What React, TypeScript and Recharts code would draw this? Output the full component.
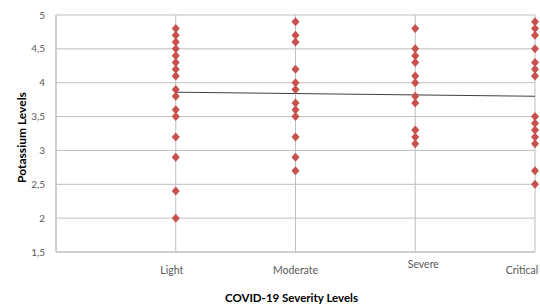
import { ScatterChart, Scatter, XAxis, YAxis, CartesianGrid } from "recharts";

// Category positions on the x axis (0 is the empty left edge)
const severityLabels = ["", "Light", "Moderate", "Severe", "Critical"];

// Potassium readings per severity group
const lightValues = [4.8, 4.7, 4.6, 4.5, 4.4, 4.3, 4.2, 4.1, 3.9, 3.8, 3.6, 3.5, 3.2, 2.9, 2.4, 2.0];
const moderateValues = [4.9, 4.7, 4.6, 4.2, 4.0, 3.9, 3.7, 3.6, 3.5, 3.2, 2.9, 2.7];
const severeValues = [4.8, 4.5, 4.4, 4.3, 4.1, 4.0, 3.8, 3.7, 3.3, 3.2, 3.1];
const criticalValues = [4.9, 4.8, 4.7, 4.5, 4.3, 4.2, 4.1, 3.5, 3.4, 3.3, 3.2, 3.1, 2.7, 2.5];

// Linear trend line, start and end
const trendX = [1, 4];
const trendY = [3.86, 3.8];

const yTicks = [1.5, 2, 2.5, 3, 3.5, 4, 4.5, 5];

const points = [lightValues, moderateValues, severeValues, criticalValues].flatMap((vals, i) =>
  vals.map((y) => ({ x: i + 1, y }))
);
const trend = trendX.map((x, i) => ({ x, y: trendY[i] }));

const FONT = "Lato, 'Open Sans', sans-serif";
const GRID = "#BFBFBF";

const Diamond = (props: any) => {
  const { cx, cy } = props;
  if (cx == null || cy == null) return null;
  return (
    <polygon
      points={`${cx},${cy - 4.5} ${cx + 4},${cy} ${cx},${cy + 4.5} ${cx - 4},${cy}`}
      fill="#C8504D"
    />
  );
};

// Excel placed the category labels a little unevenly
const labelShift: Record<string, [number, number]> = {
  Light: [-4, 0],
  Moderate: [0, 0],
  Severe: [8, -6],
  Critical: [-13, 0],
};

const XTick = (props: any) => {
  const { x, y, payload } = props;
  const label = severityLabels[payload.value] ?? "";
  if (!label) return null;
  const [dx, dy] = labelShift[label] ?? [0, 0];
  return (
    <text x={x + dx} y={y + 14 + dy} textAnchor="middle" fontSize={10.5} fill="#595959" fontFamily={FONT}>
      {label}
    </text>
  );
};

export default function App() {
  return (
    <div style={{ position: "absolute", left: 0, top: 0, background: "#fff" }}>
      <ScatterChart width={540} height={307} margin={{ top: 15, right: 5, bottom: 0, left: 0 }}>
        <CartesianGrid stroke={GRID} strokeWidth={1} />
        <XAxis
          type="number"
          dataKey="x"
          domain={[0, 4]}
          ticks={[0, 1, 2, 3, 4]}
          height={55}
          stroke={GRID}
          tickLine={false}
          tick={<XTick />}
          label={{
            content: ({ viewBox }: any) => (
              <text
                x={viewBox.x + viewBox.width / 2 - 4}
                y={302}
                textAnchor="middle"
                fontSize={11.5}
                fontWeight={700}
                fill="#000"
                fontFamily={FONT}
              >
                COVID-19 Severity Levels
              </text>
            ),
          }}
        />
        <YAxis
          type="number"
          dataKey="y"
          domain={[1.5, 5]}
          ticks={yTicks}
          width={56}
          stroke={GRID}
          tickLine={false}
          tickMargin={5}
          tick={{ fontSize: 10, fill: "#595959", fontFamily: FONT }}
          tickFormatter={(v: number) => String(v).replace(".", ",")}
          label={{
            content: ({ viewBox }: any) => {
              const cx = 21;
              const cy = viewBox.y + viewBox.height / 2 + 4;
              return (
                <text
                  x={cx}
                  y={cy}
                  transform={`rotate(-90 ${cx} ${cy})`}
                  textAnchor="middle"
                  dominantBaseline="central"
                  fontSize={12}
                  fontWeight={700}
                  fill="#000"
                  fontFamily={FONT}
                >
                  Potassium Levels
                </text>
              );
            },
          }}
        />
        <Scatter data={trend} line={{ stroke: "#3F3F3F", strokeWidth: 1 }} shape={() => null} isAnimationActive={false} />
        <Scatter data={points} shape={<Diamond />} isAnimationActive={false} />
      </ScatterChart>
    </div>
  );
}
